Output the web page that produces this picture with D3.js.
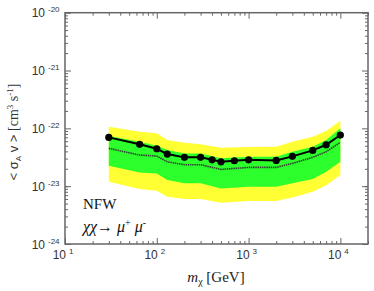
<!DOCTYPE html>
<html>
<head>
<meta charset="utf-8">
<script src="https://cdn.jsdelivr.net/npm/d3@7"></script>
<style>
  body { margin: 0; background: #fff; }
  svg { display: block; }
</style>
</head>
<body>
<div id="chart"></div>
<script>
// limit points (m_chi in GeV, <sigma v> in cm^3 s^-1)
var mass = [30, 65, 100, 130, 200, 300, 400, 500, 700, 1000, 2000, 3000, 5000, 7000, 10000];
var limit = [6.98e-23, 5.29e-23, 4.44e-23, 3.59e-23, 3.15e-23, 3.15e-23, 2.86e-23, 2.64e-23, 2.75e-23, 2.86e-23, 2.79e-23, 3.28e-23, 4.16e-23, 5.2e-23, 7.66e-23];

// expected band (median, 1 sigma, 2 sigma)
var bandMass = [30, 65, 100, 130, 200, 300, 500, 1000, 2000, 3000, 5000, 7000, 10000];
var median = [4.51e-23, 3.45e-23, 3.32e-23, 2.64e-23, 2.35e-23, 2.35e-23, 1.95e-23, 2.11e-23, 2.11e-23, 2.48e-23, 3.15e-23, 3.94e-23, 5.73e-23];
var oneUp = [7.36e-23, 5.86e-23, 5.0e-23, 4.21e-23, 3.69e-23, 3.69e-23, 3.03e-23, 3.23e-23, 3.23e-23, 3.94e-23, 4.81e-23, 6.28e-23, 1.0e-22];
var oneDn = [2.25e-23, 1.73e-23, 1.66e-23, 1.28e-23, 1.12e-23, 1.12e-23, 9.16e-24, 9.77e-24, 9.77e-24, 1.12e-23, 1.33e-23, 1.77e-23, 2.64e-23];
var twoUp = [1.07e-22, 8.74e-23, 8.19e-23, 6.28e-23, 5.63e-23, 5.29e-23, 4.62e-23, 4.75e-23, 4.81e-23, 5.86e-23, 7.16e-23, 8.98e-23, 1.35e-22];
var twoDn = [1.19e-23, 8.91e-24, 8.32e-24, 6.56e-24, 5.98e-24, 5.98e-24, 5.16e-24, 5.52e-24, 5.52e-24, 6.4e-24, 8.0e-24, 1.04e-23, 1.56e-23];

var xMajor = [10, 100, 1000, 10000];
var xExp = ["1", "2", "3", "4"];
var yMajor = [1e-20, 1e-21, 1e-22, 1e-23, 1e-24];
var yExp = ["-20", "-21", "-22", "-23", "-24"];

var W = 374, H = 291;
var L = 65, R = 368, T = 12.7, B = 244;

var svg = d3.select("#chart").append("svg").attr("width", W).attr("height", H);

var x = d3.scaleLog().domain([10, 2e4]).range([L, R]);
var y = d3.scaleLog().domain([1e-24, 1e-20]).range([B, T]);

function band(lo, hi) {
  return d3.area()
    .x(function(d, i) { return x(bandMass[i]); })
    .y0(function(d, i) { return y(lo[i]); })
    .y1(function(d, i) { return y(hi[i]); })(bandMass);
}

svg.append("path").attr("d", band(twoDn, twoUp)).attr("fill", "#ffff33");
svg.append("path").attr("d", band(oneDn, oneUp)).attr("fill", "#2cff2c");

svg.append("path")
  .attr("d", d3.line().x(function(d, i) { return x(bandMass[i]); }).y(function(d) { return y(d); })(median))
  .attr("fill", "none").attr("stroke", "#334033").attr("stroke-width", 1.6)
  .attr("stroke-dasharray", "1.5,0.7");

svg.append("path")
  .attr("d", d3.line().x(function(d, i) { return x(mass[i]); }).y(function(d) { return y(d); })(limit))
  .attr("fill", "none").attr("stroke", "#000").attr("stroke-width", 2);

svg.selectAll("circle.pt").data(limit).enter().append("circle")
  .attr("class", "pt")
  .attr("cx", function(d, i) { return x(mass[i]); })
  .attr("cy", function(d) { return y(d); })
  .attr("r", 3.6).attr("fill", "#000");

// ticks, inward on all four sides
var xMinor = x.ticks().filter(function(t) { return xMajor.indexOf(t) < 0; });
var yMinor = y.ticks().filter(function(t) { return yMajor.indexOf(t) < 0; });

function ticks(axisFn, scale, vals, size, tx, ty) {
  var g = svg.append("g").attr("transform", "translate(" + tx + "," + ty + ")")
    .call(axisFn(scale).tickValues(vals).tickSizeInner(size).tickSizeOuter(0).tickFormat(""));
  g.select(".domain").remove();
  g.selectAll("line").attr("stroke", "#666").attr("stroke-width", 1);
}
ticks(d3.axisBottom, x, xMinor, -3, 0, B);
ticks(d3.axisBottom, x, xMajor, -6, 0, B);
ticks(d3.axisTop, x, xMinor, -3, 0, T);
ticks(d3.axisTop, x, xMajor, -6, 0, T);
ticks(d3.axisLeft, y, yMinor, -3, L, 0);
ticks(d3.axisLeft, y, yMajor, -6, L, 0);
ticks(d3.axisRight, y, yMinor, -3, R, 0);
ticks(d3.axisRight, y, yMajor, -6, R, 0);

svg.append("rect").attr("x", L).attr("y", T).attr("width", R - L).attr("height", B - T)
  .attr("fill", "none").attr("stroke", "#666").attr("stroke-width", 1.5);

// tick labels
var sans = "'Liberation Sans', Arial, sans-serif";
var serif = "'Liberation Serif', 'Times New Roman', serif";

xMajor.forEach(function(v, i) {
  svg.append("text").attr("x", x(v) + 1).attr("y", 259).attr("text-anchor", "end")
    .attr("font-family", sans).attr("font-size", 12).attr("fill", "#333").text("10");
  svg.append("text").attr("x", x(v) + 4).attr("y", 254).attr("font-family", sans)
    .attr("font-size", 8).attr("fill", "#333").text(xExp[i]);
});

yMajor.forEach(function(v, i) {
  svg.append("text").attr("x", 45).attr("y", y(v) + 4.5).attr("text-anchor", "end")
    .attr("font-family", sans).attr("font-size", 12).attr("fill", "#333").text("10");
  svg.append("text").attr("x", 48).attr("y", y(v) - 0.5).attr("font-family", sans)
    .attr("font-size", 8).attr("fill", "#333").text(yExp[i]);
});

// axis titles
var xl = svg.append("text").attr("x", 216).attr("y", 282).attr("text-anchor", "middle")
  .attr("font-family", serif).attr("font-size", 15).attr("fill", "#222");
xl.append("tspan").attr("font-style", "italic").text("m");
xl.append("tspan").attr("font-size", 10).attr("dy", 3).text("χ");
xl.append("tspan").attr("dy", -3).text(" [GeV]");

var yl = svg.append("text").attr("transform", "translate(18,132) rotate(-90)")
  .attr("text-anchor", "middle").attr("fill", "#333").attr("font-size", 14);
yl.append("tspan").attr("font-family", sans).attr("font-size", 13).text("< σ");
yl.append("tspan").attr("font-family", sans).attr("font-size", 8).attr("dy", 3).text("A");
yl.append("tspan").attr("font-family", sans).attr("font-size", 13).attr("dy", -3).text(" v > ");
yl.append("tspan").attr("font-family", serif).text("[cm");
yl.append("tspan").attr("font-family", serif).attr("font-size", 9).attr("dy", -5).text("3");
yl.append("tspan").attr("font-family", serif).attr("dy", 5).text(" s");
yl.append("tspan").attr("font-family", serif).attr("font-size", 9).attr("dy", -5).text("-1");
yl.append("tspan").attr("font-family", serif).attr("dy", 5).text("]");

// annotations
svg.append("text").attr("x", 83).attr("y", 209).attr("font-family", serif)
  .attr("font-size", 15).attr("fill", "#111").text("NFW");
var ch = svg.append("text").attr("x", 83).attr("y", 232).attr("font-family", serif)
  .attr("font-size", 16).attr("fill", "#111");
ch.append("tspan").attr("font-style", "italic").text("χχ");
ch.append("tspan").text("→ ");
ch.append("tspan").attr("font-style", "italic").text("μ");
ch.append("tspan").attr("font-size", 10).attr("dy", -6).text("+");
ch.append("tspan").attr("dy", 6).text(" ");
ch.append("tspan").attr("font-style", "italic").text("μ");
ch.append("tspan").attr("font-size", 10).attr("dy", -6).text("-");
</script>
</body>
</html>
